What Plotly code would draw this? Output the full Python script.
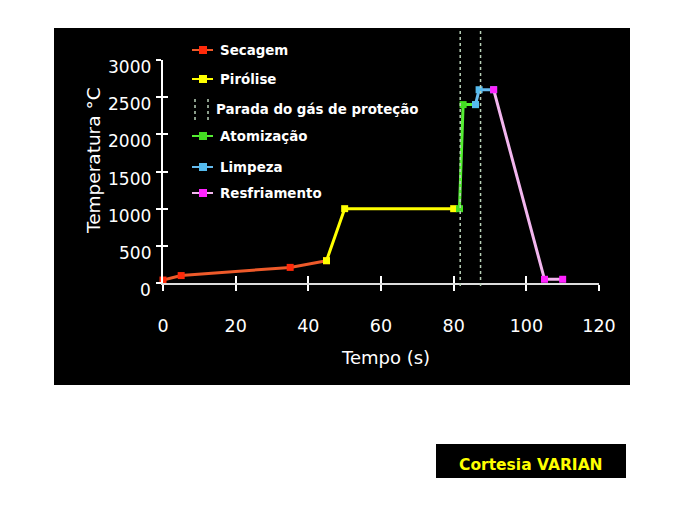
import plotly.graph_objects as go

# ---- data ----
secagem_t = [0, 5, 35, 45]
secagem_T = [40, 100, 210, 300]
pirolise_t = [45, 50, 80]
pirolise_T = [300, 1000, 1000]
atomizacao_t = [81.6, 82.6, 86]
atomizacao_T = [1000, 2400, 2400]
limpeza_t = [86, 87, 91]
limpeza_T = [2400, 2600, 2600]
resfriamento_t = [91, 105, 110]
resfriamento_T = [2600, 50, 50]
parada_t = [81.8, 87.4]

x_ticks = [0, 20, 40, 60, 80, 100, 120]
y_ticks = [0, 500, 1000, 1500, 2000, 2500, 3000]
y_tick_labels = ["0", "500", "1000", "1500", "2000", "2500", "3000"]

series = [
    ("Secagem", secagem_t, secagem_T, "#ee5a2a", "#ff2a0a"),
    ("Pirólise", pirolise_t, pirolise_T, "#ffff00", "#ffff00"),
    ("Atomização", atomizacao_t, atomizacao_T, "#55ee33", "#44dd22"),
    ("Limpeza", limpeza_t, limpeza_T, "#66bbee", "#55bbee"),
    ("Resfriamento", resfriamento_t, resfriamento_T, "#f2b6ee", "#ff22ff"),
]

# plot area pixel geometry
L, R, T, B = 163, 599, 60, 283
W, H = 689, 516
def px(x): return (x - L) / (R - L)
def py(y): return (B - y) / (B - T)

fig = go.Figure()
for name, t, v, lc, mc in series:
    fig.add_trace(go.Scatter(x=t, y=v, mode="lines+markers", name=name,
                             line=dict(color=lc, width=3),
                             marker=dict(symbol="square", size=7, color=mc),
                             cliponaxis=False, showlegend=False))

shapes = []
shapes.append(dict(type="rect", xref="paper", yref="paper", layer="below",
                   x0=px(54), x1=px(630), y0=py(385), y1=py(28),
                   fillcolor="black", line=dict(width=0)))
for t in parada_t:
    shapes.append(dict(type="line", xref="x", yref="paper", x0=t, x1=t,
                       y0=py(286), y1=py(30), line=dict(color="#b8d0b8", width=1.5, dash="dot")))
shapes.append(dict(type="rect", xref="paper", yref="paper",
                   x0=px(436), x1=px(626), y0=py(478), y1=py(444),
                   fillcolor="black", line=dict(width=0)))

annotations = []
leg_y = [50, 79, 109, 136, 167, 193]
leg_names = ["Secagem", "Pirólise", "Parada do gás de proteção", "Atomização", "Limpeza", "Resfriamento"]
leg_cols = [(s[3], s[4]) for s in series]
ci = 0
for i, (name, yy) in enumerate(zip(leg_names, leg_y)):
    if i == 2:
        for xx in (195, 208):
            shapes.append(dict(type="line", xref="paper", yref="paper", x0=px(xx), x1=px(xx),
                               y0=py(yy + 11), y1=py(yy - 12), line=dict(color="#b8d0b8", width=1.5, dash="dot")))
        tx = 214
    else:
        lc, mc = leg_cols[ci]; ci += 1
        shapes.append(dict(type="line", xref="paper", yref="paper", x0=px(192), x1=px(213),
                           y0=py(yy), y1=py(yy), line=dict(color=lc, width=2)))
        shapes.append(dict(type="rect", xref="paper", yref="paper", x0=px(199), x1=px(207),
                           y0=py(yy + 4), y1=py(yy - 4), fillcolor=mc, line=dict(width=0)))
        tx = 218
    annotations.append(dict(xref="paper", yref="paper", x=px(tx), y=py(yy), text="<b>%s</b>" % name,
                            showarrow=False, xanchor="left", yanchor="middle",
                            font=dict(family="DejaVu Sans", size=13.4, color="white")))

# y tick labels (drawn slightly below their ticks, as in the original)
for v, lab in zip(y_ticks, y_tick_labels):
    annotations.append(dict(xref="paper", yref="y", x=px(153), y=v, text=lab, yshift=-7,
                            showarrow=False, xanchor="right", yanchor="middle",
                            font=dict(family="DejaVu Sans", size=17, color="white")))

annotations.append(dict(xref="paper", yref="paper", x=px(93), y=py(161), text="Temperatura °C",
                        textangle=-90, showarrow=False, xanchor="center", yanchor="middle",
                        font=dict(family="DejaVu Sans", size=18.5, color="white")))
annotations.append(dict(xref="paper", yref="paper", x=px(385), y=py(357), text="Tempo (s)",
                        showarrow=False, xanchor="center", yanchor="middle",
                        font=dict(family="DejaVu Sans", size=18, color="white")))
annotations.append(dict(xref="paper", yref="paper", x=px(531), y=py(465), text="<b>Cortesia VARIAN</b>",
                        showarrow=False, xanchor="center", yanchor="middle",
                        font=dict(family="DejaVu Sans", size=15.5, color="#ffff00")))

fig.update_layout(
    width=W, height=H,
    margin=dict(l=L, r=W - R, t=T, b=H - B),
    paper_bgcolor="white", plot_bgcolor="rgba(0,0,0,0)",
    shapes=shapes, annotations=annotations,
    xaxis=dict(range=[0, 120], tickvals=x_ticks, ticktext=[str(v) for v in x_ticks],
               showgrid=False, zeroline=False, showline=True, linecolor="#dddddd", linewidth=2,
               ticks="outside", ticklen=6, tickcolor="white", tickwidth=1.5,
               ticklabelstandoff=20,
               tickfont=dict(family="DejaVu Sans", size=17.5, color="white")),
    yaxis=dict(range=[0, 3000], tickvals=y_ticks, showticklabels=False,
               showgrid=False, zeroline=False, showline=True, linecolor="white", linewidth=2,
               ticks="outside", ticklen=5, tickcolor="white", tickwidth=1.5),
    xaxis2=dict(overlaying="x", matches="x", range=[0, 120], tickvals=x_ticks, showticklabels=False,
                ticks="inside", ticklen=7, tickcolor="white", tickwidth=1.5, showgrid=False,
                zeroline=False, side="bottom", anchor="y"),
    yaxis2=dict(overlaying="y", matches="y", range=[0, 3000], tickvals=y_ticks, showticklabels=False,
                ticks="inside", ticklen=5, tickcolor="white", tickwidth=1.5, showgrid=False,
                zeroline=False, side="left", anchor="x"),
)
fig.add_trace(go.Scatter(x=[None], y=[None], xaxis="x2", yaxis="y2", showlegend=False, hoverinfo="skip"))
fig.write_html("out.html")
